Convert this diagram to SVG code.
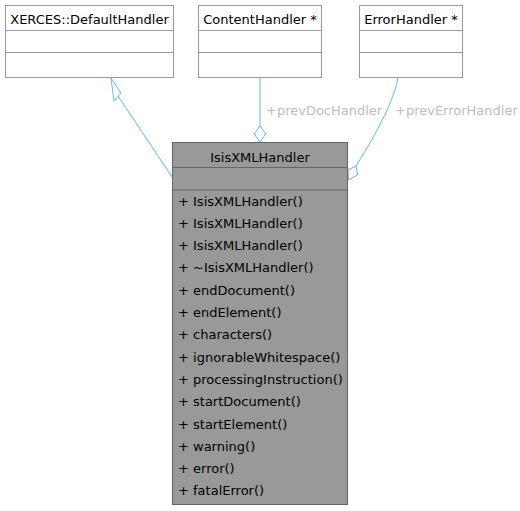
<svg xmlns="http://www.w3.org/2000/svg" width="520" height="511" viewBox="0 0 520 511">
<style>
text{font-family:"DejaVu Sans",sans-serif;font-size:13px;fill:#000}
.c{text-anchor:middle}
.box{fill:#fff;stroke:#999;stroke-width:1}
.main{fill:#999;stroke:#666;stroke-width:1}
.dv{stroke:#999;stroke-width:1}
.dvm{stroke:#666;stroke-width:1}
.e{fill:none;stroke:#63b8ff;stroke-width:1}
.ah{fill:#fff;stroke:#63b8ff;stroke-width:1}
.lbl{fill:#bebebe}
</style>
<rect width="520" height="511" fill="#fff"/>
<g id="connectors">
<path class="e" d="M172,177 L118,96"/>
<polygon class="ah" points="111,78 114,101 121,93"/>
<path class="e" d="M260,77 L260,126"/>
<polygon class="ah" points="260,126 265.7,134 260,142 254.3,134"/>
<text class="lbl" x="266" y="114.5">+prevDocHandler</text>
<path class="e" d="M398,77 C396,92 385,120 356,166"/>
<polygon class="ah" points="356,166 357.5,175 348.5,180 348,170"/>
<text class="lbl" x="395" y="114.5">+prevErrorHandler</text>
</g>
<g id="node-defaulthandler">
<rect class="box" x="5.5" y="5.5" width="168" height="72"/>
<line class="dv" x1="5.5" y1="30.5" x2="173.5" y2="30.5"/>
<line class="dv" x1="5.5" y1="52.5" x2="173.5" y2="52.5"/>
<text class="c" x="89.5" y="23.5">XERCES::DefaultHandler</text>
</g>
<g id="node-contenthandler">
<rect class="box" x="198.5" y="5.5" width="123" height="72"/>
<line class="dv" x1="198.5" y1="30.5" x2="321.5" y2="30.5"/>
<line class="dv" x1="198.5" y1="52.5" x2="321.5" y2="52.5"/>
<text class="c" x="260" y="23.5">ContentHandler *</text>
</g>
<g id="node-errorhandler">
<rect class="box" x="359.5" y="5.5" width="103" height="72"/>
<line class="dv" x1="359.5" y1="30.5" x2="462.5" y2="30.5"/>
<line class="dv" x1="359.5" y1="52.5" x2="462.5" y2="52.5"/>
<text class="c" x="411" y="23.5">ErrorHandler *</text>
</g>
<g id="node-isisxmlhandler">
<rect class="main" x="172.5" y="142.5" width="175" height="362"/>
<line class="dvm" x1="172.5" y1="167.5" x2="347.5" y2="167.5"/>
<line class="dvm" x1="172.5" y1="190" x2="347.5" y2="190"/>
<text class="c" x="260" y="161.5">IsisXMLHandler</text>
<text x="178" y="205.5">+ IsisXMLHandler()</text>
<text x="178" y="227.8">+ IsisXMLHandler()</text>
<text x="178" y="250.1">+ IsisXMLHandler()</text>
<text x="178" y="272.4">+ ~IsisXMLHandler()</text>
<text x="178" y="294.7">+ endDocument()</text>
<text x="178" y="317">+ endElement()</text>
<text x="178" y="339.3">+ characters()</text>
<text x="178" y="361.6">+ ignorableWhitespace()</text>
<text x="178" y="383.9">+ processingInstruction()</text>
<text x="178" y="406.2">+ startDocument()</text>
<text x="178" y="428.5">+ startElement()</text>
<text x="178" y="450.8">+ warning()</text>
<text x="178" y="473.1">+ error()</text>
<text x="178" y="495.4">+ fatalError()</text>
</g>
</svg>
